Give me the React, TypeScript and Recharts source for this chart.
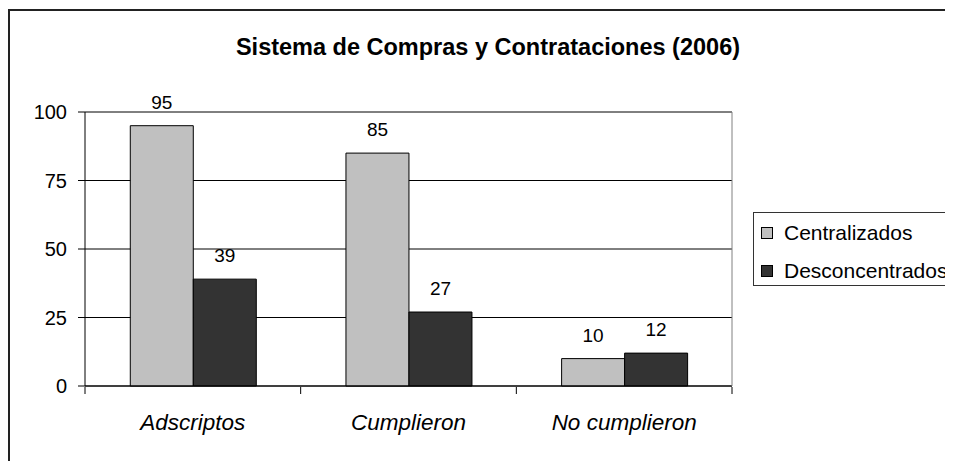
import React from 'react';
import { BarChart, Bar, XAxis, YAxis, CartesianGrid, LabelList, Legend, ReferenceLine } from 'recharts';

const categories = ['Adscriptos', 'Cumplieron', 'No cumplieron'];
const centralizados = [95, 85, 10];
const desconcentrados = [39, 27, 12];
const yTicks = [0, 25, 50, 75, 100];
const boundaryTicks = [0, 1, 2, 3];
const title = 'Sistema de Compras y Contrataciones (2006)';

const data = categories.map((c, i) => ({
  name: c,
  Centralizados: centralizados[i],
  Desconcentrados: desconcentrados[i],
  pos: i + 0.5,
}));

const FONT = '"Liberation Sans", Arial, sans-serif';
const LIGHT = '#C0C0C0';
const DARK = '#333333';

const legendItems = [
  { label: 'Centralizados', color: LIGHT },
  { label: 'Desconcentrados', color: DARK },
];

const LegendBox = () => (
  <div
    style={{
      border: '1px solid #333',
      width: 230,
      height: 74,
      boxSizing: 'border-box',
      fontFamily: FONT,
      fontSize: 21,
      color: '#000',
      paddingTop: 5,
    }}
  >
    {legendItems.map((it) => (
      <div key={it.label} style={{ display: 'flex', alignItems: 'center', height: 30, marginBottom: 8 }}>
        <span
          style={{
            display: 'inline-block',
            width: 10,
            height: 10,
            background: it.color,
            border: '1px solid #000',
            marginLeft: 7,
            marginRight: 11,
          }}
        />
        <span>{it.label}</span>
      </div>
    ))}
  </div>
);

const CatTick = (props: any) => {
  const { x, y, payload } = props;
  return (
    <text x={x} y={y} textAnchor="middle" dy="0.71em" fontFamily={FONT} fontSize={22.5} fontStyle="italic" fill="#000">
      {payload.value}
    </text>
  );
};

const EmptyTick = () => <g />;

export default function App() {
  return (
    <div style={{ position: 'relative', width: 945, height: 453, overflow: 'hidden' }}>
      <div
        style={{
          position: 'absolute',
          left: 0,
          top: 1,
          width: 1000,
          height: 1000,
          border: '2px solid #222',
          boxSizing: 'border-box',
        }}
      />
      <div
        style={{
          position: 'absolute',
          left: 0,
          width: 960,
          top: 26,
          textAlign: 'center',
          fontFamily: FONT,
          fontWeight: 'bold',
          fontSize: 23.5,
          color: '#000',
          lineHeight: '26px',
        }}
      >
        {title}
      </div>
      <div style={{ position: 'absolute', left: 0, top: 0 }}>
        <BarChart
          width={945}
          height={453}
          data={data}
          margin={{ top: 104, right: 220, bottom: 73, left: 0 }}
          barCategoryGap="21%"
          barGap={0}
        >
          <CartesianGrid vertical={false} stroke="#000" />
          <XAxis
            xAxisId="bounds"
            dataKey="pos"
            type="number"
            domain={[0, 3]}
            ticks={boundaryTicks}
            tick={<EmptyTick />}
            axisLine={false}
            tickLine={{ stroke: '#000' }}
            tickSize={7}
            height={1}
            allowDataOverflow
          />
          <XAxis
            dataKey="name"
            tick={<CatTick />}
            tickLine={false}
            tickSize={0}
            tickMargin={28}
            axisLine={{ stroke: '#000' }}
            height={1}
            interval={0}
          />
          <YAxis
            domain={[0, 100]}
            ticks={yTicks}
            width={77}
            tickSize={7}
            tickMargin={11}
            tick={{ fontFamily: FONT, fontSize: 20, fill: '#000' }}
            axisLine={{ stroke: '#000' }}
            tickLine={{ stroke: '#000' }}
          />
          <YAxis
            yAxisId="right"
            orientation="right"
            width={1}
            tick={false}
            tickLine={false}
            axisLine={{ stroke: '#808080' }}
          />
          <ReferenceLine y={100} stroke="#808080" />
          <Legend
            layout="vertical"
            align="center"
            verticalAlign="middle"
            wrapperStyle={{ left: 745, top: 204, width: 230 }}
            content={() => <LegendBox />}
          />
          <Bar dataKey="Centralizados" fill={LIGHT} stroke="#000" strokeWidth={1} isAnimationActive={false}>
            <LabelList dataKey="Centralizados" position="top" offset={17} fill="#000" fontSize={19} fontFamily={FONT} />
          </Bar>
          <Bar dataKey="Desconcentrados" fill={DARK} stroke="#000" strokeWidth={1} isAnimationActive={false}>
            <LabelList dataKey="Desconcentrados" position="top" offset={17} fill="#000" fontSize={19} fontFamily={FONT} />
          </Bar>
        </BarChart>
      </div>
    </div>
  );
}
